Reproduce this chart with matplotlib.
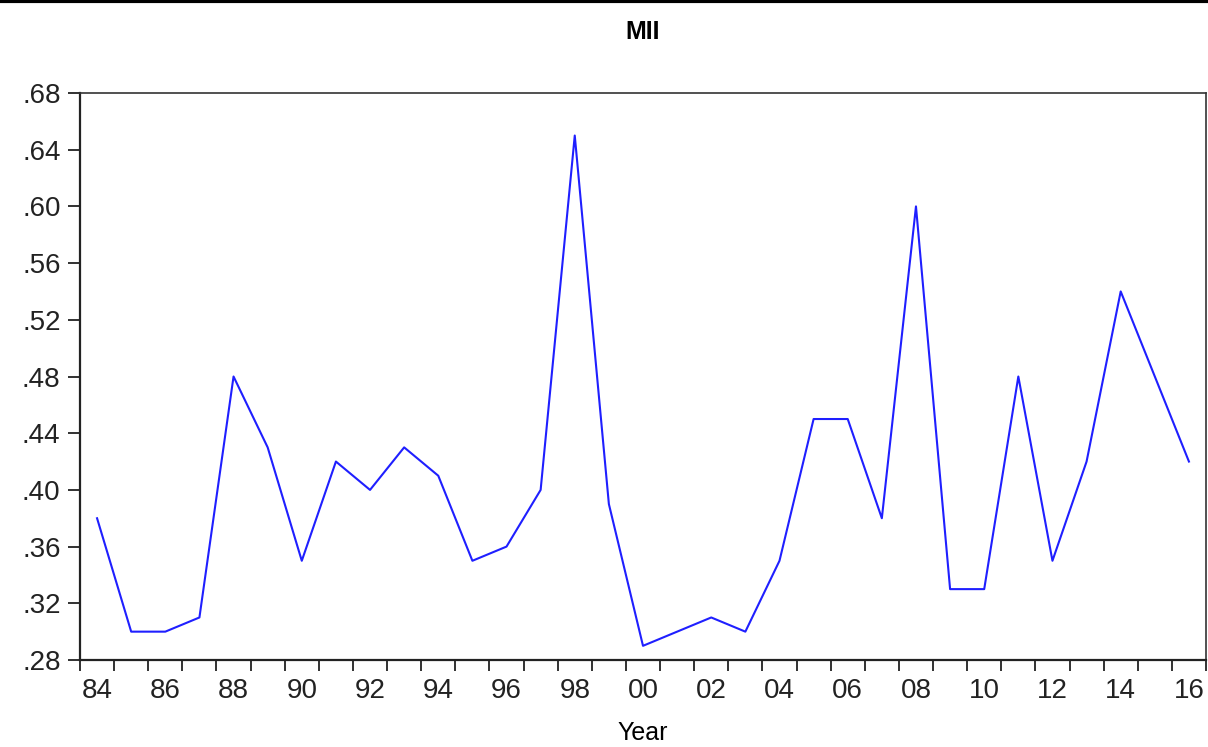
import numpy as np, matplotlib
matplotlib.use("Agg")
import matplotlib.pyplot as plt
from matplotlib.lines import Line2D
from matplotlib.ticker import FixedLocator, FuncFormatter

plt.rcParams["font.family"] = ["Liberation Sans", "DejaVu Sans"]

years = list(range(1984, 2017))
mii = [0.38, 0.30, 0.30, 0.31, 0.48, 0.43, 0.35, 0.42, 0.40, 0.43, 0.41,
       0.35, 0.36, 0.40, 0.65, 0.39, 0.29, 0.30, 0.31, 0.30, 0.35, 0.45,
       0.45, 0.38, 0.60, 0.33, 0.33, 0.48, 0.35, 0.42, 0.54, 0.48, 0.42]
yticks = [0.28, 0.32, 0.36, 0.40, 0.44, 0.48, 0.52, 0.56, 0.60, 0.64, 0.68]
label_years = list(range(1984, 2017, 2))

fig = plt.figure(figsize=(12.08, 7.47), dpi=100)
ax = fig.add_axes([80 / 1208, 1 - 660 / 747, 1126 / 1208, 567 / 747])

ax.plot(years, mii, color="#1f1fff", lw=1.5)
ax.set_xlim(1983.5, 2016.5)
ax.set_ylim(0.28, 0.68)

ax.set_yticks(yticks)
ax.yaxis.set_major_formatter(FuncFormatter(lambda v, p: f"{v:.2f}"[1:]))
ax.tick_params(axis="y", direction="out", length=9, width=1.3,
               labelsize=20, pad=5, colors="#222222")

# year labels sit between the ticks, ticks mark year boundaries
ax.xaxis.set_major_locator(FixedLocator(label_years))
ax.set_xticklabels([f"{y % 100:02d}" for y in label_years])
ax.xaxis.set_minor_locator(FixedLocator(np.arange(1983.5, 2017, 1.0)))
ax.tick_params(axis="x", which="major", length=0, labelsize=20, pad=13,
               colors="#222222")
ax.tick_params(axis="x", which="minor", direction="out", length=8, width=1.3,
               color="#222222")

for s in ("left", "bottom"):
    ax.spines[s].set_linewidth(1.6)
    ax.spines[s].set_color("#222222")
for s in ("top", "right"):
    ax.spines[s].set_linewidth(1.2)
    ax.spines[s].set_color("#333333")

ax.set_xlabel("Year", fontsize=18, labelpad=12)
fig.text(643 / 1208, 1 - 32 / 747, "MII", ha="center", va="center",
         fontsize=18, fontweight="bold")

fig.add_artist(Line2D([0, 1], [0.998, 0.998], transform=fig.transFigure,
                      color="black", lw=3))

fig.savefig("out.png", dpi=100)
